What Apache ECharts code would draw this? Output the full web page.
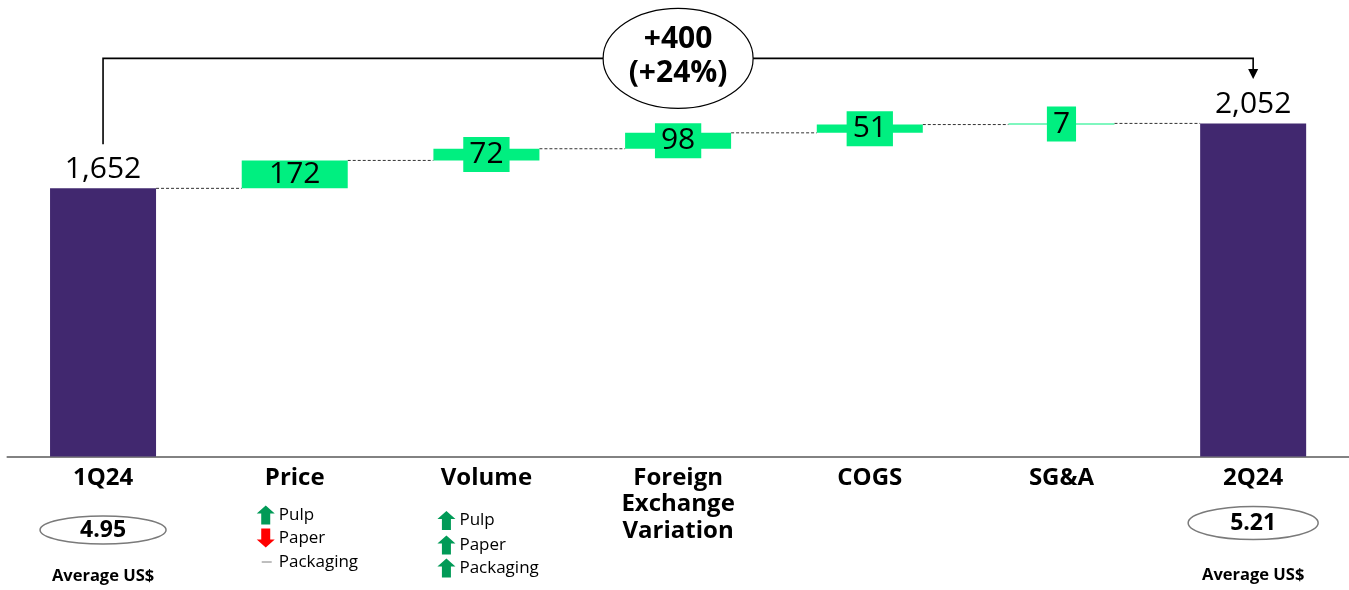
<!DOCTYPE html>
<html>
<head>
<meta charset="utf-8">
<script src="https://cdn.jsdelivr.net/npm/echarts@6/dist/echarts.min.js"></script>
<style>
  html, body { margin: 0; padding: 0; background: #fff; }
  #chart { width: 1349px; height: 590px; }
</style>
</head>
<body>
<div id="chart"></div>
<script>
// EBITDA bridge, 1Q24 -> 2Q24 (R$ million)
const categories = ['1Q24', 'Price', 'Volume', 'Foreign\nExchange\nVariation', 'COGS', 'SG&A', '2Q24'];
const openingTotal = 1652;
const closingTotal = 2052;
const bridgeSteps = [172, 72, 98, 51, 7];
const changeText = ['+400', '(+24%)'];
const averageRates = ['4.95', '5.21'];
const averageRateCaption = 'Average US$';
const priceDrivers = [['up', 'Pulp'], ['down', 'Paper'], ['flat', 'Packaging']];
const volumeDrivers = [['up', 'Pulp'], ['up', 'Paper'], ['up', 'Packaging']];

const FONT = 'Open Sans';
const PURPLE = '#41286f';
const GREEN = '#00ef80';
const ARROW_GREEN = '#019a57';
const ARROW_RED = '#ff0000';

// invisible offsets and running levels for the floating steps
const baseValues = [0];
const levels = [openingTotal];
let running = openingTotal;
bridgeSteps.forEach(s => { baseValues.push(running); running += s; levels.push(running); });
baseValues.push(0);

const fmt = v => v.toLocaleString('en-US');

const visibleData = [];
visibleData.push({
  value: openingTotal,
  itemStyle: { color: PURPLE },
  label: { show: true, position: 'top', distance: 4, fontSize: 30, color: '#000', fontFamily: FONT, formatter: p => fmt(p.value) }
});
bridgeSteps.forEach(s => {
  const fitsInside = s >= 150;
  visibleData.push({
    value: s,
    itemStyle: { color: GREEN },
    label: {
      show: true, position: 'inside', fontSize: 30, color: '#000', fontFamily: FONT,
      lineHeight: 31,
      backgroundColor: fitsInside ? 'transparent' : GREEN,
      padding: fitsInside ? 0 : [2, 6, 2, 6],
      formatter: p => fmt(p.value)
    }
  });
});
visibleData.push({
  value: closingTotal,
  itemStyle: { color: PURPLE },
  label: { show: true, position: 'top', distance: 4, fontSize: 30, color: '#000', fontFamily: FONT, formatter: p => fmt(p.value) }
});

const BAR_RATIO = 0.553;

const option = {
  animation: false,
  backgroundColor: '#fff',
  grid: { left: 7.2, right: 0, top: 2, bottom: 133.5, containLabel: false, outerBoundsMode: 'none' },
  xAxis: {
    type: 'category',
    data: categories,
    axisLine: { lineStyle: { color: '#595959', width: 1.5 } },
    axisTick: { show: false },
    axisLabel: {
      interval: 0, margin: 8, fontSize: 24, fontWeight: 'bold', color: '#000',
      fontFamily: FONT, lineHeight: 26.5
    }
  },
  yAxis: { type: 'value', min: 0, max: 2800, show: false, splitLine: { show: false } },
  series: [
    {
      type: 'bar', stack: 'bridge', silent: true, barWidth: (BAR_RATIO * 100) + '%',
      itemStyle: { color: 'transparent' }, data: baseValues
    },
    {
      type: 'bar', stack: 'bridge', barWidth: (BAR_RATIO * 100) + '%', data: visibleData, z: 3
    },
    {
      // dashed connectors between consecutive bar tops
      type: 'custom', silent: true, z: 2,
      data: levels.map((v, i) => [i, v]),
      renderItem: (params, api) => {
        const i = api.value(0), v = api.value(1);
        const p1 = api.coord([i, v]);
        const p2 = api.coord([i + 1, v]);
        const half = api.size([1, 0])[0] * BAR_RATIO / 2;
        return {
          type: 'line',
          shape: { x1: p1[0] + half, y1: p1[1], x2: p2[0] - half, y2: p2[1] },
          style: { stroke: '#333', lineWidth: 1, lineDash: [3, 2] }
        };
      }
    }
  ]
};

const chart = echarts.init(document.getElementById('chart'), null, { renderer: 'canvas' });
chart.setOption(option);

// annotations placed relative to the axis coordinates
const px = (i, v) => chart.convertToPixel({ gridIndex: 0 }, [i, v]);
const last = categories.length - 1;
const a = px(0, openingTotal);
const b = px(last, closingTotal);
const baseY = px(0, 0)[1];
const graphics = [];

const yTop = b[1] - 65;
const yStart = a[1] - 44;
const yTip = b[1] - 44.5;
graphics.push({
  type: 'polyline',
  shape: { points: [[a[0], yStart], [a[0], yTop], [b[0], yTop], [b[0], yTip - 9]] },
  style: { stroke: '#000', lineWidth: 1.6, fill: null }
});
graphics.push({
  type: 'polygon',
  shape: { points: [[b[0] - 5, yTip - 10], [b[0] + 5, yTip - 10], [b[0], yTip]] },
  style: { fill: '#000' }
});
const cx = (a[0] + b[0]) / 2;
graphics.push({
  type: 'ellipse',
  shape: { cx: cx, cy: yTop, rx: 75, ry: 50 },
  style: { fill: '#fff', stroke: '#000', lineWidth: 1.2 }
});
graphics.push({
  type: 'text', x: cx, y: yTop - 2,
  style: {
    text: changeText.join('\n'), align: 'center', verticalAlign: 'middle',
    font: 'bold 30px "' + FONT + '"', lineHeight: 34, fill: '#000'
  }
});

// average exchange rate ovals
function rateOval(x, cy, rx, ry, txt, capY) {
  graphics.push({
    type: 'ellipse', shape: { cx: x, cy: cy, rx: rx, ry: ry },
    style: { fill: '#fff', stroke: '#7a7a7a', lineWidth: 1.5 }
  });
  graphics.push({
    type: 'text', x: x, y: cy,
    style: { text: txt, align: 'center', verticalAlign: 'middle', font: 'bold 23px "' + FONT + '"', fill: '#000' }
  });
  graphics.push({
    type: 'text', x: x, y: capY,
    style: { text: averageRateCaption, align: 'center', verticalAlign: 'middle', font: 'bold 16.5px "' + FONT + '"', fill: '#000' }
  });
}
rateOval(a[0], baseY + 73.5, 63, 14, averageRates[0], baseY + 120);
rateOval(b[0], baseY + 66.5, 65, 16.5, averageRates[1], baseY + 118.5);

// driver lists with direction arrows
function arrow(x, yc, dir, color) {
  const w = 18, h = 19, hh = 8, sw = 4.5, m = w / 2;
  const top = yc - h / 2;
  let pts;
  if (dir === 'up') {
    pts = [[m, 0], [w, hh], [m + sw, hh], [m + sw, h], [m - sw, h], [m - sw, hh], [0, hh]];
  } else {
    pts = [[m, h], [w, h - hh], [m + sw, h - hh], [m + sw, 0], [m - sw, 0], [m - sw, h - hh], [0, h - hh]];
  }
  graphics.push({ type: 'polygon', shape: { points: pts.map(p => [x + p[0], top + p[1]]) }, style: { fill: color } });
}
function driverList(catIndex, list, arrowDx, textDx, rowOffsets) {
  const x = px(catIndex, 0)[0];
  list.forEach((d, k) => {
    const y = baseY + rowOffsets[k];
    if (d[0] === 'up') arrow(x + arrowDx, y, 'up', ARROW_GREEN);
    else if (d[0] === 'down') arrow(x + arrowDx, y, 'down', ARROW_RED);
    else graphics.push({
      type: 'line', shape: { x1: x + arrowDx + 5, y1: y, x2: x + arrowDx + 15, y2: y },
      style: { stroke: '#7f7f7f', lineWidth: 1 }
    });
    graphics.push({
      type: 'text', x: x + textDx, y: y,
      style: { text: d[1], align: 'left', verticalAlign: 'middle', font: '17px "' + FONT + '"', fill: '#000' }
    });
  });
}
driverList(1, priceDrivers, -38, -16, [58.5, 81.5, 105.5]);
driverList(2, volumeDrivers, -49, -27, [64, 88.5, 111.5]);

chart.setOption({ graphic: graphics });
</script>
</body>
</html>
